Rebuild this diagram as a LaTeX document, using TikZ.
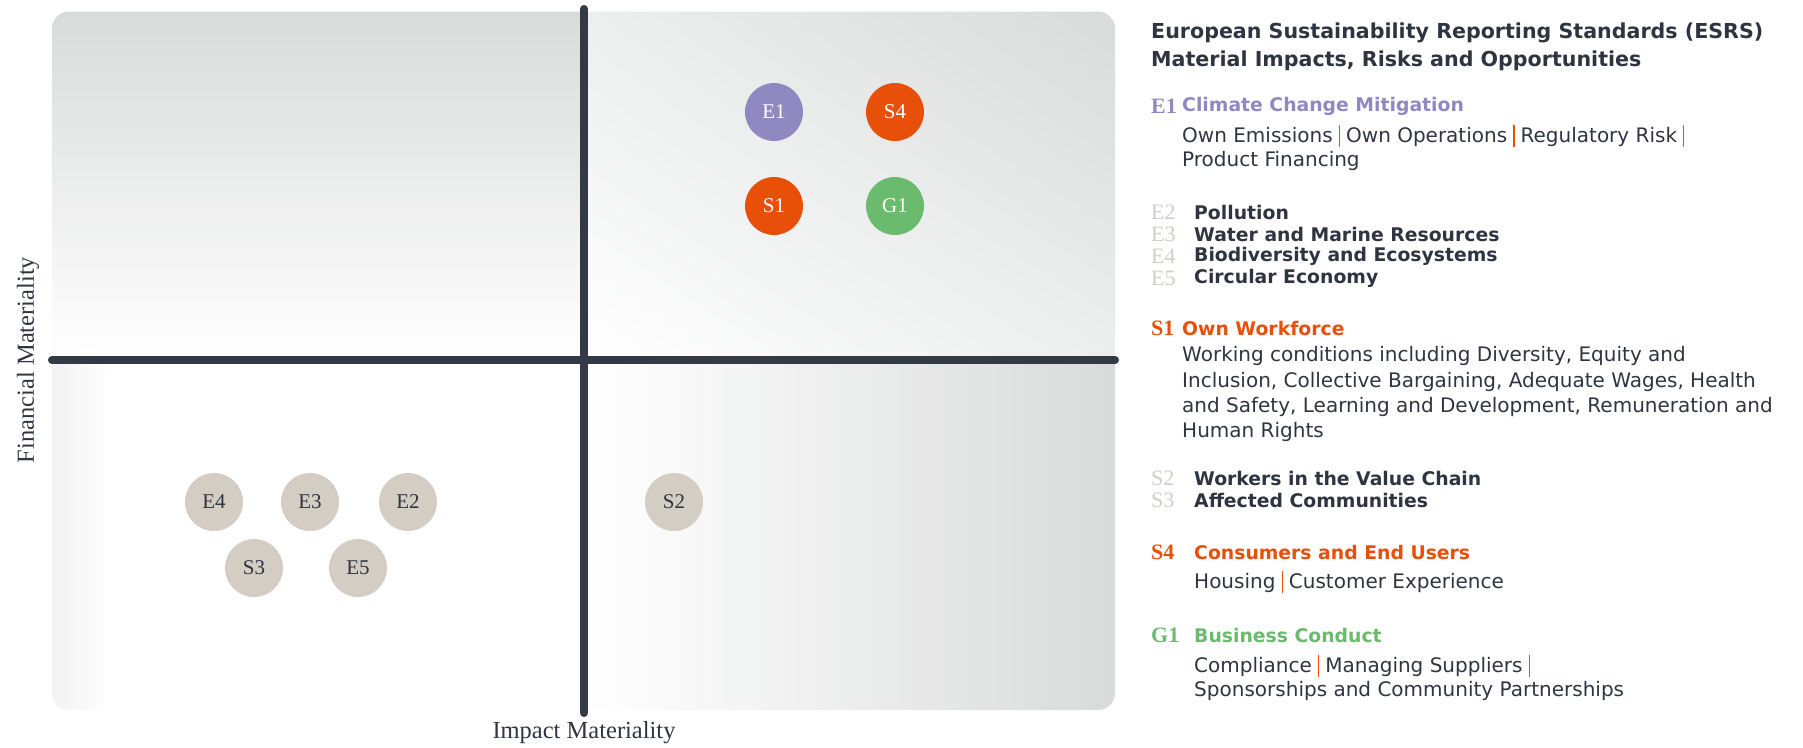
\documentclass[tikz,border=0pt]{standalone}
\usepackage{fontspec}
\usetikzlibrary{shadings}
\setmainfont{DejaVu Sans}
\newfontfamily\seriffam{Liberation Serif}
\definecolor{ink}{HTML}{2F3540}
\definecolor{axisc}{HTML}{333A45}
\definecolor{eorange}{HTML}{E8500A}
\definecolor{epurple}{HTML}{9088C1}
\definecolor{egreen}{HTML}{6BBB6F}
\definecolor{ebeige}{HTML}{D3CDC3}
\definecolor{qgray}{HTML}{D9DBDA}
\definecolor{qmid}{HTML}{EDEEEE}
\newcommand{\vsep}{\hspace{0.3em}{\color{eorange}\rule[-5pt]{1.4pt}{22pt}}\hspace{0.3em}}
\begin{document}
\begin{tikzpicture}[x=1pt,y=-1pt,
  bub/.style={circle, minimum size=58pt, inner sep=0pt, font=\seriffam\fontsize{21}{21}\selectfont},
  bubc/.style={bub, text=white},
  bubb/.style={bub, fill=ebeige, text=ink},
  axisline/.style={draw=axisc, line width=8pt, line cap=round},
  axlabel/.style={font=\seriffam\fontsize{24.5}{24.5}\selectfont, text=ink, inner sep=0pt},
  ttl/.style={anchor=west, inner sep=0pt, text=ink, font=\bfseries\fontsize{20.6}{26}\selectfont},
  codec/.style={anchor=west, inner sep=0pt, font=\seriffam\bfseries\fontsize{22}{22}\selectfont},
  codeb/.style={anchor=west, inner sep=0pt, text=ebeige, font=\seriffam\fontsize{22}{22}\selectfont},
  head/.style={anchor=west, inner sep=0pt, font=\bfseries\fontsize{18.8}{23}\selectfont},
  body/.style={anchor=west, inner sep=0pt, text=ink, font=\fontsize{20}{23}\selectfont}
]
\useasboundingbox (0,0) rectangle (1803,747);
% quadrant backgrounds
\begin{scope}
\clip[rounded corners=17pt] (52,11.5) rectangle (1115,710);
\shade[top color=qgray, bottom color=white] (52,11.5) rectangle (584,360);
\shade[upper left=qmid, upper right=qgray, lower left=white, lower right=qmid] (584,11.5) rectangle (1115,360);
\fill[white] (52,360) rectangle (584,710);
\shade[left color=black!5, right color=white] (52,360) rectangle (110,710);
\shade[left color=white, right color=qgray] (584,360) rectangle (1115,710);
\end{scope}
% axes
\coordinate (vt) at (584,9);
\coordinate (vb) at (584,713);
\coordinate (hl) at (52,360);
\coordinate (hr) at (1115,360);
\draw[axisline] (vt) -- (vb);
\draw[axisline] (hl) -- (hr);
\node[axlabel, rotate=90] (fm) at (28,360) {Financial Materiality};
\node[axlabel] (im) at (584,733) {Impact Materiality};
% bubbles
\node[bubc, fill=epurple] (e1) at (774,112) {E1};
\node[bubc, fill=eorange] (s4) at (895,112) {S4};
\node[bubc, fill=eorange] (s1) at (774,206) {S1};
\node[bubc, fill=egreen] (g1) at (895,206) {G1};
\node[bubb] (e4) at (214,502) {E4};
\node[bubb] (e3) at (310,502) {E3};
\node[bubb] (e2) at (408,502) {E2};
\node[bubb] (s2) at (674,502) {S2};
\node[bubb] (s3) at (254,568) {S3};
\node[bubb] (e5) at (358,568) {E5};
% legend
\node[ttl] (t1) at (1151,33) {European Sustainability Reporting Standards (ESRS)};
\node[ttl] (t2) at (1151,61) {Material Impacts, Risks and Opportunities};
\node[codec, text=epurple] (ce1) at (1151,106) {E1};
\node[head, text=epurple] (he1) at (1182,106) {Climate Change Mitigation};
\node[body] (b11) at (1182,136) {Own Emissions\vsep Own Operations\vsep Regulatory Risk\vsep};
\node[body] (b12) at (1182,161) {Product Financing};
\node[codeb] (ce2) at (1151,212) {E2};
\node[head, text=ink] (he2) at (1194,212) {Pollution};
\node[codeb] (ce3) at (1151,234) {E3};
\node[head, text=ink] (he3) at (1194,234) {Water and Marine Resources};
\node[codeb] (ce4) at (1151,256) {E4};
\node[head, text=ink] (he4) at (1194,256) {Biodiversity and Ecosystems};
\node[codeb] (ce5) at (1151,278) {E5};
\node[head, text=ink] (he5) at (1194,278) {Circular Economy};
\node[codec, text=eorange] (cs1) at (1151,328) {S1};
\node[head, text=eorange] (hs1) at (1182,328) {Own Workforce};
\node[body] (b21) at (1182,356) {Working conditions including Diversity, Equity and};
\node[body] (b22) at (1182,382) {Inclusion, Collective Bargaining, Adequate Wages, Health};
\node[body] (b23) at (1182,407) {and Safety, Learning and Development, Remuneration and};
\node[body] (b24) at (1182,432) {Human Rights};
\node[codeb] (cs2) at (1151,478) {S2};
\node[head, text=ink] (hs2) at (1194,478) {Workers in the Value Chain};
\node[codeb] (cs3) at (1151,500) {S3};
\node[head, text=ink] (hs3) at (1194,500) {Affected Communities};
\node[codec, text=eorange] (cs4) at (1151,552) {S4};
\node[head, text=eorange] (hs4) at (1194,552) {Consumers and End Users};
\node[body] (b31) at (1194,582) {Housing\vsep Customer Experience};
\node[codec, text=egreen] (cg1) at (1151,635) {G1};
\node[head, text=egreen] (hg1) at (1194,635) {Business Conduct};
\node[body] (b41) at (1194,666) {Compliance\vsep Managing Suppliers\vsep};
\node[body] (b42) at (1194,691) {Sponsorships and Community Partnerships};
\end{tikzpicture}
\end{document}
